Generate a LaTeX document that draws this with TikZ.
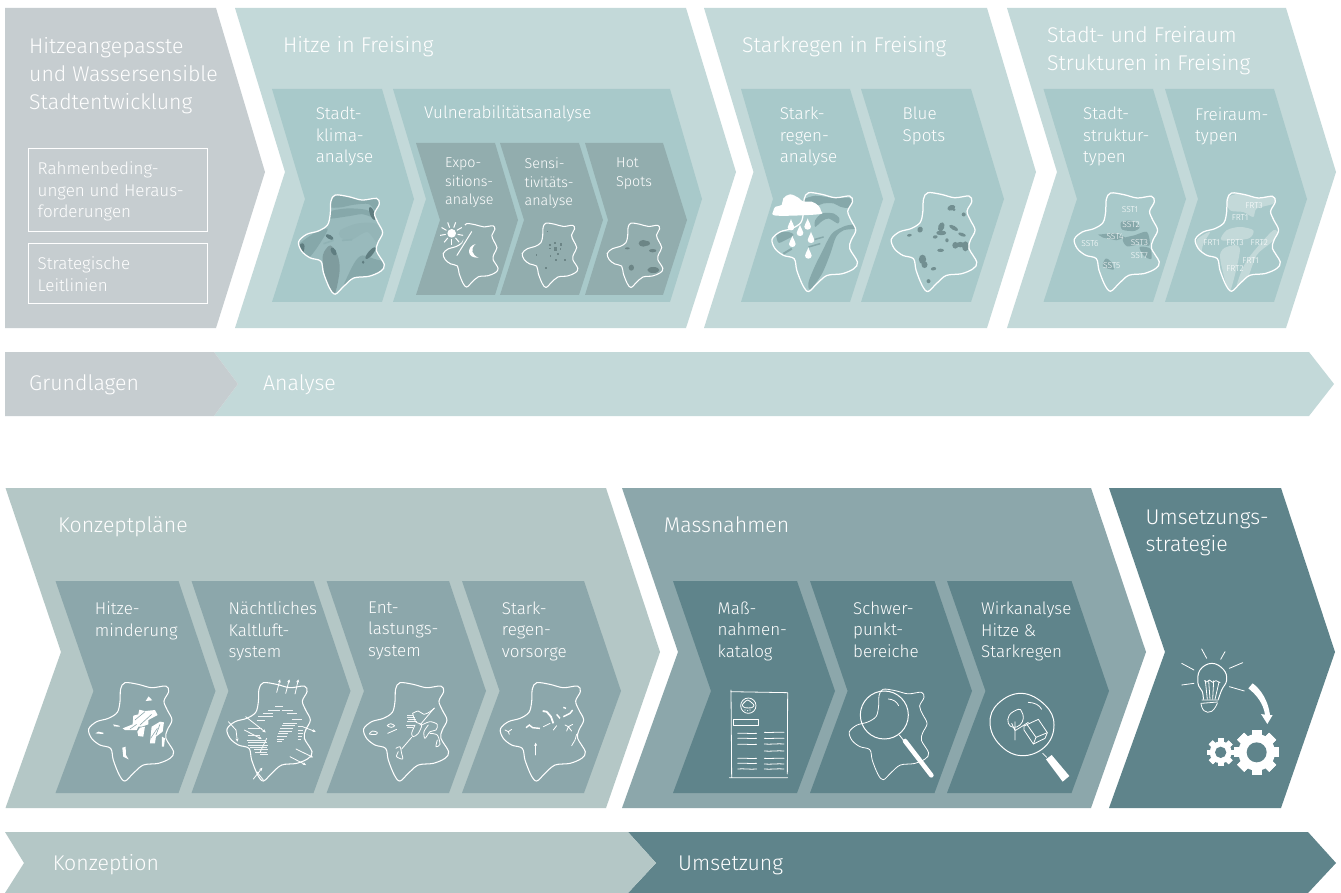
\documentclass[tikz,border=0pt]{standalone}
\usepackage{fontspec}
\setmainfont{Fira Sans Light}
\usetikzlibrary{arrows.meta}
\definecolor{cgrey}{HTML}{C6CDD0}
\definecolor{clight}{HTML}{C3D9D9}
\definecolor{cmid}{HTML}{A8C9CA}
\definecolor{csub}{HTML}{92ADAE}
\definecolor{dlight}{HTML}{B4C7C6}
\definecolor{dmid}{HTML}{8CA7AB}
\definecolor{ddark}{HTML}{5F848B}
\definecolor{pone}{HTML}{86A8AA}
\definecolor{ptwo}{HTML}{7F9C9E}
\definecolor{pdark}{HTML}{5F7D80}
\newcommand\chev[8]{\fill[#8] (#1,#5)--(#2,#5)--(#3,#6)--(#2,#7)--(#1,#7)--(#4,#6)--cycle;}
\newenvironment{mapat}[3]{\begin{scope}[shift={({#1-25*#3},{#2-20*#3})},scale=#3]}{\end{scope}}
\newcommand\gearicon[5]{\begin{scope}[shift={(#1,#2)}]
\fill[white] (0,0) circle (#4);
\foreach \a in {0,45,...,315}{\fill[white,rotate=\a] (-#5*0.5,-#3) rectangle (#5*0.5,#3);}
\fill[ddark] (0,0) circle (#5);
\end{scope}}
\newcommand\raindrop[2]{\fill[white] (#1,#2-18) .. controls (#1+3,#2-6) and (#1+10,#2) .. (#1+10,#2+7) .. controls (#1+10,#2+19) and (#1-10,#2+19) .. (#1-10,#2+7) .. controls (#1-10,#2) and (#1-3,#2-6) .. (#1,#2-18) -- cycle;}
\tikzset{
 blobpath/.style={insert path={plot[smooth cycle,tension=.55] coordinates {(122,42)(135,23)(175,28)(215,38)(258,33)(266,50)(252,78)(262,105)(276,135)(262,165)(258,190)(281,230)(270,250)(235,265)(190,270)(160,295)(135,318)(118,300)(100,255)(92,220)(60,210)(35,190)(26,162)(50,140)(85,130)(112,112)(120,80)}}},
 blobline/.style={draw=white,line width=1.25pt},
 blobthin/.style={draw=white,line width=1.05pt},
 thinw/.style={draw=white,line width=.8pt,line cap=round,line join=round},
 hatch/.style={draw=white!88!dmid,line width=1pt},
 arr/.style={thinw,-{Stealth[length=3.2pt,width=3pt]}},
 txt/.style={anchor=north west,inner sep=0pt,align=left,text=white,execute at begin node=\strut},
 hone/.style={txt,font=\fontsize{21.3}{27.8}\selectfont,yshift=19.46pt},
 htwo/.style={txt,font=\fontsize{17}{21.5}\selectfont,yshift=15.05pt},
 hthree/.style={txt,font=\fontsize{14.3}{18.5}\selectfont,yshift=12.95pt},
 mlone/.style={yshift=-4.8pt},
 mltwo/.style={yshift=-3.6pt},
 mlthree/.style={yshift=-3.4pt},
 maplab/.style={inner sep=0pt,text=white,font=\fontsize{8.5}{9}\selectfont},
 framebox/.style={draw=white,line width=.9pt}
}
\begin{document}
\begin{tikzpicture}[x=1pt,y=-1pt]
\useasboundingbox (0,0) rectangle (1341,893);
\fill[white] (0,0) rectangle (1341,893);
% ---------- top row
\chev{5}{216}{265}{5}{8}{172}{328}{cgrey}
\chev{235}{686}{736}{285}{8}{172}{328}{clight}
\chev{704}{987}{1036}{753.5}{8}{172}{328}{clight}
\chev{1007}{1286}{1336}{1057}{8}{172}{328}{clight}
\chev{272}{382}{414}{305}{89}{199}{302}{cmid}
\chev{393}{670}{702}{426}{89}{199}{302}{cmid}
\chev{416}{495}{518}{440}{143}{220}{295}{csub}
\chev{500}{579}{603}{524}{143}{220}{295}{csub}
\chev{585}{663}{687}{608}{143}{220}{295}{csub}
\chev{741}{850}{883}{773}{89}{199}{302}{cmid}
\chev{861}{971}{1004}{895}{89}{199}{302}{cmid}
\chev{1043.5}{1153}{1186}{1077}{89}{199}{302}{cmid}
\chev{1165}{1274}{1307}{1198}{89}{199}{302}{cmid}
% bars
\chev{214}{1309}{1334}{238}{352}{384}{416}{clight}
\chev{5}{214}{238}{5}{352}{384}{416}{cgrey}
\chev{628}{1308}{1336}{656}{832}{863}{893}{ddark}
\chev{5}{628}{656}{24}{832}{863}{893}{dlight}
% ---------- bottom row
\chev{5.5}{606}{660}{61}{488}{652}{808}{dlight}
\chev{622}{1091}{1146}{678}{488}{652}{808}{dmid}
\chev{1109}{1281}{1335}{1165}{488}{652}{808}{ddark}
\chev{55.5}{178.5}{215.5}{93.5}{581}{691}{793}{dmid}
\chev{191.5}{313.5}{350.5}{228.5}{581}{691}{793}{dmid}
\chev{326.6}{449}{486}{364}{581}{691}{793}{dmid}
\chev{462}{584}{621}{499.6}{581}{691}{793}{dmid}
\chev{673}{797}{835}{711}{581}{691}{793}{ddark}
\chev{810}{934.5}{972}{847.6}{581}{691}{793}{ddark}
\chev{947}{1071.5}{1109}{985.5}{581}{691}{793}{ddark}
% boxes
\draw[framebox] (28,148) rectangle (207,231);
\draw[framebox] (28,243) rectangle (207,303);
% ---------- map: Stadtklima
\begin{mapat}{298.3}{194}{.336}
\begin{scope}
\path[clip,blobpath];
\fill[pone!45!cmid,blobpath];
\begin{scope}[shift={(0,-22)}]
\fill[pone] plot[smooth cycle] coordinates {(110,50)(170,40)(275,50)(260,95)(235,72)(190,74)(150,82)(115,80)};
\fill[pone] plot[smooth cycle] coordinates {(115,95)(170,85)(230,90)(250,112)(215,102)(175,108)(115,115)};
\fill[pone!60!cmid] plot[smooth cycle] coordinates {(150,150)(200,130)(255,130)(282,165)(262,190)(230,155)(180,180)(150,170)};
\fill[ptwo] plot[smooth cycle] coordinates {(98,225)(120,195)(142,225)(148,270)(132,340)(105,290)};
\fill[pone] plot[smooth cycle] coordinates {(150,340)(190,250)(215,225)(250,235)(290,250)(240,290)(195,305)};
\fill[pone] plot[smooth cycle] coordinates {(20,200)(70,160)(112,145)(95,180)(60,228)(30,236)};
\draw[pone!70!cmid,line width=1.6pt] (100,190)--(130,180) (155,180)--(185,178);
\foreach \px/\py/\ra/\rb/\rt in {245/100/7/20/20, 32/208/10/20/-20, 118/170/6/13/60, 130/213/7/13/30, 240/218/7/22/-40, 218/245/4/5/0}{\fill[pdark,rotate around={\rt:(\px,\py)}] (\px,\py) ellipse ({\ra} and {\rb});}
\end{scope}
\end{scope}
\draw[blobline,blobpath];
\end{mapat}
% ---------- map: Expositions
\begin{mapat}{443}{223}{.215}\draw[blobthin,blobpath];\end{mapat}
\begin{scope}[shift={(290,180)},scale=1/3]
\fill[csub] (492,178) -- (512,190) -- (540,150) -- (518,130) -- cycle;
\fill[white] (485,160) circle (13);
\foreach \a in {0,40,...,320}{\draw[white,line width=1pt,rotate around={\a+20:(485,160)}] (485,142)--(485,125);}
\draw[white,line width=1pt,line cap=round] (545,155)--(501,226);
\fill[white] (557,192) .. controls (530,198) and (528,236) .. (566,233) .. controls (545,226) and (540,206) .. (557,192) -- cycle;
\end{scope}
% ---------- map: Sensitivitaet
\begin{mapat}{522}{222.5}{.218}\draw[blobthin,blobpath];\end{mapat}
\begin{scope}[shift={(290,180)},scale=1/3]
\foreach \px/\py/\ss in {780/195/3,795/190/2.5,813/194/4,797/207/5,780/205/2,811/208/2.5,803/222/3,782/228/2,797/241/3,825/241/3,768/265/3,740/225/2,773/155/1.5}{\fill[ptwo!85!black] (\px-\ss,\py-\ss) rectangle (\px+\ss,\py+\ss);}
\end{scope}
% ---------- map: Hot spots
\begin{mapat}{607}{222.5}{.218}\draw[blobthin,blobpath];\end{mapat}
\begin{scope}[shift={(290,180)},scale=1/3]
\foreach \px/\py/\ra/\rb in {1060/190/14/10,1072/190/8/7,1012/205/7/3,1088/212/11/5,1024/263/8/9,1090/270/18/9}{\fill[ptwo!85!black] (\px,\py) ellipse ({\ra} and {\rb});}
\end{scope}
% ---------- map: Starkregen
\begin{mapat}{771.7}{191.7}{.335}
\begin{scope}
\path[clip,blobpath];
\begin{scope}[shift={(5,0)}]
\fill[pone] plot[smooth cycle] coordinates {(115,45)(150,32)(200,38)(250,38)(262,50)(250,68)(225,65)(205,55)(175,55)(150,62)};
\fill[pone] plot[smooth cycle] coordinates {(150,105)(170,85)(205,85)(222,100)(218,115)(190,100)(170,108)(150,125)};
\fill[pone] plot[smooth cycle,tension=.5] coordinates {(205,140)(240,122)(272,118)(272,130)(235,135)(212,155)(195,205)(170,265)(135,312)(130,290)(150,240)(170,200)(190,160)};
\fill[pone] plot[smooth cycle] coordinates {(35,145)(70,140)(85,150)(60,165)(40,172)};
\draw[pone,line width=2pt] (55,205)--(80,190);
\draw[pone,line width=1.5pt] (130,185)--(165,175);
\draw[pone,line width=1.5pt] (140,165)--(175,155);
\end{scope}
\end{scope}
\draw[blobline,blobpath];
\end{mapat}
\begin{scope}[shift={(765,185)},scale=1/3]
\fill[white] plot[smooth cycle,tension=.6] coordinates {(25,78)(32,65)(50,60)(55,40)(75,28)(100,38)(115,50)(140,50)(160,62)(168,78)(160,88)(35,92)};
\raindrop{78}{120}\raindrop{128}{118}\raindrop{105}{137}\raindrop{138}{158}\raindrop{82}{170}\raindrop{130}{205}
\end{scope}
% ---------- map: Blue spots
\begin{mapat}{891}{191.7}{.335}
\begin{scope}[shift={(-353,0)}]
\foreach \px/\py/\ra/\rb/\rt in {558/68/12/8/20,566/74/5/4/0,595/88/6/6/0,465/133/8/9/-20,433/150/7/4/10,528/125/9/14/-20,565/128/15/6/-30,528/143/15/7/0,510/155/7/5/10,590/148/12/5/-20,545/165/5/6/0,526/195/10/5/0,570/180/9/10/0,585/178/13/8/0,600/183/10/15/0,472/222/11/14/0,478/238/9/10/0,505/250/8/5/10,490/287/6/6/0}{\fill[pone!85!black,rotate around={\rt:(\px,\py)}] (\px,\py) ellipse ({\ra} and {\rb});}
\end{scope}
\draw[blobline,blobpath];
\end{mapat}
% ---------- map: SST
\begin{mapat}{1074}{192}{.333}
\begin{scope}[shift={(-78,-15)}]
\fill[pone] plot[smooth cycle] coordinates {(245,125)(280,122)(300,140)(285,152)(248,148)};
\fill[pone] (175,163)--(230,158)--(258,172)--(230,180)--(190,172)--cycle;
\fill[pone] plot[smooth cycle] coordinates {(250,175)(285,165)(322,155)(330,195)(300,192)(262,198)};
\fill[pone] plot[smooth cycle] coordinates {(300,200)(332,205)(335,236)(312,226)};
\fill[pone] plot[smooth cycle] coordinates {(198,235)(215,245)(222,268)(190,258)};
\end{scope}
\draw[blobline,blobpath];
\end{mapat}
\begin{scope}[shift={(1040,180)},scale=1/3]
\node[maplab] (sstone) at (270,88) {SST1};
\node[maplab] (ssttwo) at (273,135) {SST2};
\node[maplab] (sstfour) at (225,170) {SST4};
\node[maplab] (sstthree) at (298,188) {SST3};
\node[maplab] (sstsix) at (150,192) {SST6};
\node[maplab] (sstseven) at (298,227) {SST7};
\node[maplab] (sstfive) at (215,258) {SST5};
\end{scope}
% ---------- map: FRT
\begin{mapat}{1195}{192}{.333}
\begin{scope}
\path[clip,blobpath];
\begin{scope}[shift={(-440,-15)}]
\fill[clight] plot[smooth cycle] coordinates {(560,55)(600,40)(700,50)(700,70)(650,85)(640,110)(610,95)(570,90)};
\fill[clight] plot[smooth cycle] coordinates {(560,150)(600,140)(640,150)(625,175)(545,180)};
\fill[clight] plot[smooth cycle] coordinates {(540,225)(560,200)(600,205)(570,335)(555,300)};
\fill[clight] plot[smooth cycle] coordinates {(640,215)(700,150)(715,165)(690,190)(650,225)(620,300)(590,320)(610,260)};
\fill[clight] plot[smooth cycle] coordinates {(470,180)(510,155)(490,190)(480,230)};
\end{scope}
\end{scope}
\draw[blobline,blobpath];
\end{mapat}
\begin{scope}[shift={(1040,180)},scale=1/3]
\node[maplab] (frtone) at (642,77) {FRT3};
\node[maplab] (frttwo) at (600,113) {FRT1};
\node[maplab] (frtthree) at (515,188) {FRT1};
\node[maplab] (frtfour) at (585,188) {FRT3};
\node[maplab] (frtfive) at (658,188) {FRT2};
\node[maplab] (frtsix) at (632,243) {FRT1};
\node[maplab] (frtseven) at (585,265) {FRT2};
\end{scope}
% ---------- map: Hitzeminderung
\begin{mapat}{88.3}{681.7}{.3333}
\draw[blobthin,blobpath];
\fill[white] (197,78)--(206,64)--(217,76)--cycle;
\fill[white] (46,175)--(55,170)--(70,173)--(70,177)--cycle;
\fill[white] (100,148)--(118,152)--(120,155)--(102,154)--cycle;
\fill[white] (128,160)--(158,148)--(160,122)--(175,118)--(178,104)--(195,108)--(225,105)--(233,120)--(205,135)--(205,148)--(185,155)--(175,155)--(170,165)--(135,165)--cycle;
\fill[white] (172,170)--(180,158)--(195,155)--(190,185)--(175,183)--cycle;
\fill[white] (215,155)--(240,140)--(252,142)--(248,170)--(228,185)--(225,205)--(210,205)--cycle;
\fill[white] (246,185)--(255,190)--(252,215)--(246,215)--cycle;
\fill[white] (127,218)--(137,215)--(138,240)--(146,253)--(130,245)--cycle;
\draw[dmid,line width=.6pt] (165,135)--(195,110) (180,150)--(215,118) (150,162)--(170,148) (228,180)--(240,148) (212,190)--(232,160);
\end{mapat}
% ---------- map: Kaltluft
\begin{mapat}{226.7}{681.7}{.3333}
\draw[blobthin,blobpath];
\begin{scope}[shift={(-415,0)}]
\draw[arr] (590,52)--(600,13);
\draw[arr] (617,55)--(628,13);
\draw[arr] (645,57)--(655,13);
\draw[arr] (445,140)--(468,165)--(472,200);
\draw[arr] (497,125)--(557,172);
\draw[arr] (493,165)--(545,192);
\draw[arr] (520,312)--(547,278);
\draw[thinw] (530,290)--(550,315);
\draw[arr] (668,155)--(707,170);
\draw[arr] (648,222)--(699,247);
\draw[arr] (630,245)--(678,270);
\draw[thinw] (560,190)--(540,232);
\foreach \a/\b/\c in {500/195/555,505/203/560,505/210/565,510/217/560,522/224/565,525/231/562,540/238/565,503/180/540,505/160/545,530/135/555,535/125/580,550/115/580,565/105/600,585/95/610,605/105/640,620/115/650,635/132/665,610/145/650,605/152/645,600/160/640,598/168/635,595/176/625,592/184/620,590/192/612,592/200/605,655/155/670,655/165/668,655/175/668,653/185/665,653/193/663}{\draw[hatch] (\a,\b)--(\c,\b);}
\end{scope}
\end{mapat}
% ---------- map: Entlastung
\begin{mapat}{363.3}{681.7}{.3333}
\draw[blobthin,blobpath];
\begin{scope}[shift={(-15,0)}]
\draw[thinw] plot[smooth cycle] coordinates {(58,177)(68,168)(82,172)(78,178)};
\draw[thinw] plot[smooth cycle] coordinates {(112,152)(122,146)(134,152)(124,157)};
\draw[thinw] (113,175)--(140,163);
\foreach \a/\b/\c in {172/122/190,170/128/195,175/134/198,172/140/200,168/152/195,170/157/190}{\draw[hatch] (\a,\b)--(\c,\b);}
\draw[thinw] plot[smooth,tension=.5] coordinates {(188,115)(205,108)(222,118)(240,110)(254,99)};
\draw[thinw] plot[smooth,tension=.5] coordinates {(188,115)(197,140)(215,150)(205,175)(190,185)(185,175)(195,150)};
\draw[thinw] plot[smooth,tension=.5] coordinates {(215,150)(240,140)(262,148)(258,165)(240,170)(225,190)(222,170)(235,150)};
\draw[thinw] (252,100)--(210,150);
\draw[thinw] plot[smooth,tension=.5] coordinates {(240,175)(262,180)(270,208)(258,215)(262,195)};
\draw[thinw] (185,187)--(155,222);
\draw[thinw] plot[smooth,tension=.5] coordinates {(138,220)(150,215)(155,235)(158,252)(140,245)(145,230)};
\end{scope}
\end{mapat}
% ---------- map: Starkregenvorsorge
\begin{mapat}{500}{681.7}{.3333}
\draw[blobthin,blobpath];
\begin{scope}[shift={(-425,0)}]
\draw[thinw] (465,165)--(475,170)--(485,163) (475,170)--(478,178);
\draw[white,line width=1.8pt] (578,108)--(590,110)--(603,125)--(610,145);
\draw[white,line width=1.4pt] (620,118)--(630,130) (640,97)--(648,100) (640,125)--(660,115)--(668,105);
\draw[white,line width=1.4pt] (528,158)--(538,150)--(548,158)--(570,160);
\draw[thinw] (580,155)--(600,145) (610,165)--(620,152);
\draw[thinw] (645,150)--(655,155)--(668,148) (655,155)--(650,168) (655,155)--(665,168);
\draw[arr] (557,240)--(557,203);
\draw[thinw] (665,212)--(675,195)--(680,178);
\end{scope}
\end{mapat}
% ---------- Massnahmenkatalog
\begin{scope}[shift={(700,680)},scale=1/3]
\draw[thinw] (92,35)--(263,38) (93,30)--(95,293) (263,38)--(262,282) (88,293)--(263,293);
\draw[thinw] (145,77) circle (23);
\draw[thinw] plot[smooth cycle] coordinates {(127,76)(132,68)(143,60)(155,68)(162,76)(155,83)(135,83)};
\foreach \px/\py in {135/90,143/92,150/90}{\fill[white] (\px,\py) circle (1.8);}
\draw[thinw] (100,118) rectangle (176,136);
\foreach \b in {160,175,193,235,250,267}{\draw[thinw] (113,\b) .. controls (130,\b-2) and (150,\b+2) .. (170,\b);}
\foreach \b in {157,175,192,213,235,252,267}{\draw[thinw] (193,\b) .. controls (210,\b+2) and (235,\b-2) .. (252,\b);}
\end{scope}
% ---------- Schwerpunktbereiche
\begin{scope}[shift={(849,688.3)},xscale=.311,yscale=.307,shift={(-25,-20)}]
\draw[draw=white,line width=.8pt,blobpath];
\end{scope}
\begin{scope}[shift={(700,680)},scale=1/3]
\draw[thinw,line width=1pt] (553,105) circle (72);
\draw[thinw] (565,57) .. controls (580,58) and (590,65) .. (596,77);
\draw[thinw] (598,165)--(610,180);
\draw[white,line width=4.6pt,line cap=round] (615,183)--(694,286);
\end{scope}
% ---------- Wirkanalyse
\begin{scope}[shift={(970,640)},scale=1/3]
\draw[thinw,line width=1pt] plot[smooth cycle,tension=.7] coordinates {(60,250)(85,190)(155,160)(225,195)(252,255)(225,320)(155,347)(90,315)};
\draw[thinw] (175,187) .. controls (195,188) and (208,195) .. (215,208);
\draw[thinw] (218,340)--(230,352);
\fill[white] (228,358)--(245,345)--(298,408)--(278,425)--cycle;
\draw[thinw] plot[smooth cycle,tension=.7] coordinates {(145,208)(118,225)(115,250)(130,262)(150,255)(160,235)(155,215)};
\draw[thinw] (135,300)--(135,245) (125,250)--(135,272)--(175,247);
\draw[thinw] (162,258)--(205,238)--(232,278)--(225,295)--(190,312)--(162,270)--cycle;
\draw[thinw] (172,255)--(198,292)--(232,278) (198,292)--(190,312);
\end{scope}
% ---------- Umsetzung icons
\begin{scope}[shift={(970,640)},scale=1/3]
\draw[thinw] (695,27)--(710,55) (765,35)--(752,58) (778,85)--(818,68) (635,70)--(672,90) (635,135)--(672,130) (778,140)--(823,153);
\draw[thinw,line width=1pt] plot[smooth,tension=.7] coordinates {(700,178)(697,155)(684,130)(690,90)(725,70)(760,88)(770,120)(755,150)(745,178)};
\draw[thinw] (696,180)--(745,180) (694,190)--(743,186);
\draw[thinw] plot[smooth,tension=.8] coordinates {(693,190)(702,212)(725,214)(742,190)};
\draw[thinw] (712,178)--(706,122) (735,178)--(747,126) (720,178)--(716,122) (728,178)--(731,122);
\draw[thinw] (703,122)--(710,126)--(718,120)--(728,127)--(738,122)--(750,128);
\fill[white] (835,145)--(848,130) .. controls (875,150) and (895,185) .. (900,225)--(908,225)--(892,252)--(873,222)--(885,224) .. controls (880,190) and (860,165) .. (835,145)--cycle;
\gearicon{860}{337}{68}{55}{30}
\gearicon{752}{337}{42}{33}{17}
\end{scope}
% ---------- texts
\node[hone,mlone] (thead) at (29,52) {Hitzeangepasste\\und Wassersensible\\Stadtentwicklung};
\node[htwo,mltwo] (trahmen) at (37.5,173) {Rahmenbeding-\\ungen und Heraus-\\forderungen};
\node[htwo,mltwo] (tstrat) at (37.5,268) {Strategische\\Leitlinien};
\node[hone] (thitze) at (283,52) {Hitze in Freising};
\node[htwo,mltwo] (tstadtk) at (315.6,118.5) {Stadt-\\klima-\\analyse};
\node[htwo] (tvuln) at (424,118.5) {Vulnerabilitätsanalyse};
\node[hthree,mlthree] (texpo) at (445,167.5) {Expo-\\sitions-\\analyse};
\node[hthree,mlthree] (tsensi) at (524.5,167.5) {Sensi-\\tivitäts-\\analyse};
\node[hthree,mlthree] (thot) at (616,167.5) {Hot\\Spots};
\node[hone] (tstark) at (742,52) {Starkregen in Freising};
\node[hone,mlone] (tstruk) at (1047,41) {Stadt- und Freiraum\\Strukturen in Freising};
\node[htwo,mltwo] (tsreg) at (779.6,118.5) {Stark-\\regen-\\analyse};
\node[htwo,mltwo] (tblue) at (902.5,118.5) {Blue\\Spots};
\node[htwo,mltwo] (tsst) at (1083,118.5) {Stadt-\\struktur-\\typen};
\node[htwo,mltwo] (tfrt) at (1195,118.5) {Freiraum-\\typen};
\node[hone] (tgrund) at (29,390) {Grundlagen};
\node[hone] (tanalyse) at (263,390) {Analyse};
\node[hone] (tkonz) at (58,532) {Konzeptpläne};
\node[hone] (tmass) at (663.7,532) {Massnahmen};
\node[hone,mlone] (tumstr) at (1145.5,524) {Umsetzungs-\\strategie};
\node[htwo,mltwo] (thm) at (94.7,613) {Hitze-\\minderung};
\node[htwo,mltwo] (tnk) at (228.5,613) {Nächtliches\\Kaltluft-\\system};
\node[htwo,mltwo] (tent) at (368,613) {Ent-\\lastungs-\\system};
\node[htwo,mltwo] (tsv) at (501.7,613) {Stark-\\regen-\\vorsorge};
\node[htwo,mltwo] (tmk) at (717.5,613) {Maß-\\nahmen-\\katalog};
\node[htwo,mltwo] (tsp) at (853,613) {Schwer-\\punkt-\\bereiche};
\node[htwo,mltwo] (twa) at (981,613) {Wirkanalyse\\Hitze \&\\Starkregen};
\node[hone] (tkonzn) at (52.6,870) {Konzeption};
\node[hone] (tumsg) at (678,870) {Umsetzung};
\end{tikzpicture}
\end{document}
